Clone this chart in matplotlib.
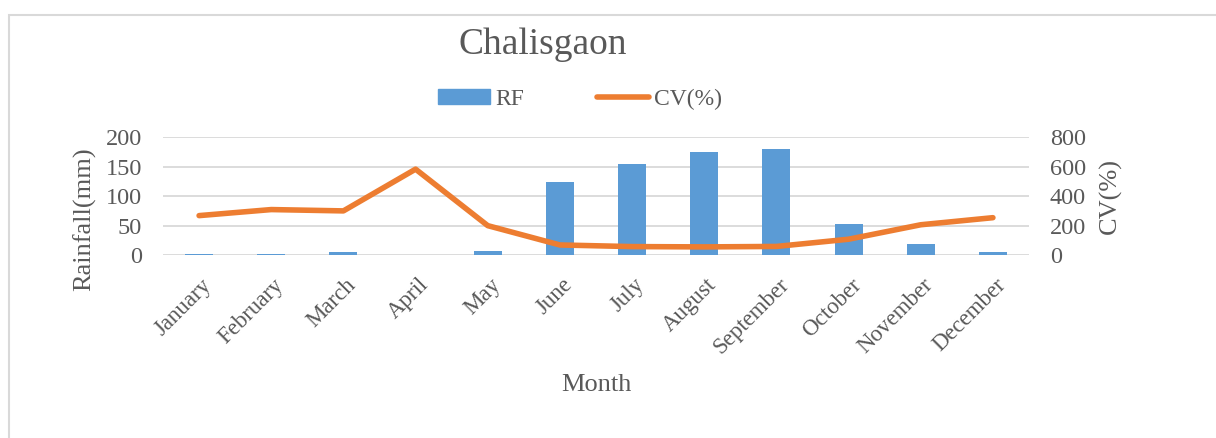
import numpy as np
import matplotlib
matplotlib.use("Agg")
import matplotlib.pyplot as plt
from matplotlib.patches import Rectangle, Patch
from matplotlib.lines import Line2D
from matplotlib.transforms import ScaledTranslation

# ─── data ────────────────────────────────────────────────────────────────────
months = ["January", "February", "March", "April", "May", "June", "July",
          "August", "September", "October", "November", "December"]
rainfall = [1.5, 1.5, 4.5, 0.0, 6.0, 123, 155, 175, 179, 53, 19, 4.5]
cv_pct = [267, 308, 299, 582, 199, 68, 57, 55, 58, 107, 205, 253]

TXT = "#595959"
BLUE = "#5B9BD5"
ORANGE = "#ED7D31"
GRID = "#D9D9D9"

plt.rcParams["font.family"] = ["Liberation Serif", "DejaVu Serif"]

W, H = 1216, 438
fig = plt.figure(figsize=(W / 100, H / 100), dpi=100)

# outer chart border (only left/top visible in crop)
fig.patches.append(Rectangle((9 / W, -0.1), 1.2, 1 - 15 / H + 0.1,
                             transform=fig.transFigure, fill=False,
                             ec=GRID, lw=1.5))

# plot area in pixel terms: x 163..1029, y 137..255
ax = fig.add_axes([163 / W, 1 - 255 / H, (1029 - 163) / W, (255 - 137) / H])
x = np.arange(len(months))
ax.bar(x, rainfall, width=0.39, color=BLUE, zorder=2)
ax.set_xlim(-0.5, len(months) - 0.5)
ax.set_ylim(0, 200)
ax.set_yticks([0, 50, 100, 150, 200])
ax.grid(axis="y", color=GRID, lw=1.3, zorder=0)
ax.set_axisbelow(True)
for s in ax.spines.values():
    s.set_visible(False)
ax.tick_params(axis="y", length=0, labelsize=17.5, colors=TXT, pad=15)
ax.tick_params(axis="x", length=0, colors=TXT, pad=14)
ax.set_xticks(x)
ax.set_xticklabels(months, rotation=45, ha="right", va="top",
                   rotation_mode="anchor", fontsize=16.5)
shift = ScaledTranslation(2 / 100, 0, fig.dpi_scale_trans)
for lab in ax.get_xticklabels():
    lab.set_transform(lab.get_transform() + shift)

ax2 = ax.twinx()
ax2.plot(x, cv_pct, color=ORANGE, lw=4, solid_capstyle="round", zorder=3)
ax2.set_ylim(0, 800)
ax2.set_yticks([0, 200, 400, 600, 800])
for s in ax2.spines.values():
    s.set_visible(False)
ax2.tick_params(axis="y", length=0, labelsize=17.5, colors=TXT, pad=15)

# titles / axis titles
fig.text(543 / W, 1 - 45 / H, "Chalisgaon", ha="center", va="center",
         fontsize=27, color=TXT)
fig.text(85 / W, 1 - 219 / H, "Rainfall(mm)", ha="center", va="center",
         rotation=90, fontsize=19, color=TXT)
fig.text(1110 / W, 1 - 196 / H, "CV(%)", ha="center", va="center",
         rotation=90, fontsize=19, color=TXT)
fig.text(596 / W, 1 - 385 / H, "Month", ha="center", va="center",
         fontsize=19, color=TXT)

handles = [Patch(color=BLUE, label="RF"),
           Line2D([0], [0], color=ORANGE, lw=4, solid_capstyle="round",
                  label="CV(%)")]
fig.legend(handles=handles, loc="center", bbox_to_anchor=(580 / W, 1 - 99 / H),
           ncol=2, frameon=False, fontsize=17, labelcolor=TXT,
           handlelength=2.2, handleheight=0.6, columnspacing=3.1,
           handletextpad=0.2)

fig.savefig("out.png", dpi=100)
